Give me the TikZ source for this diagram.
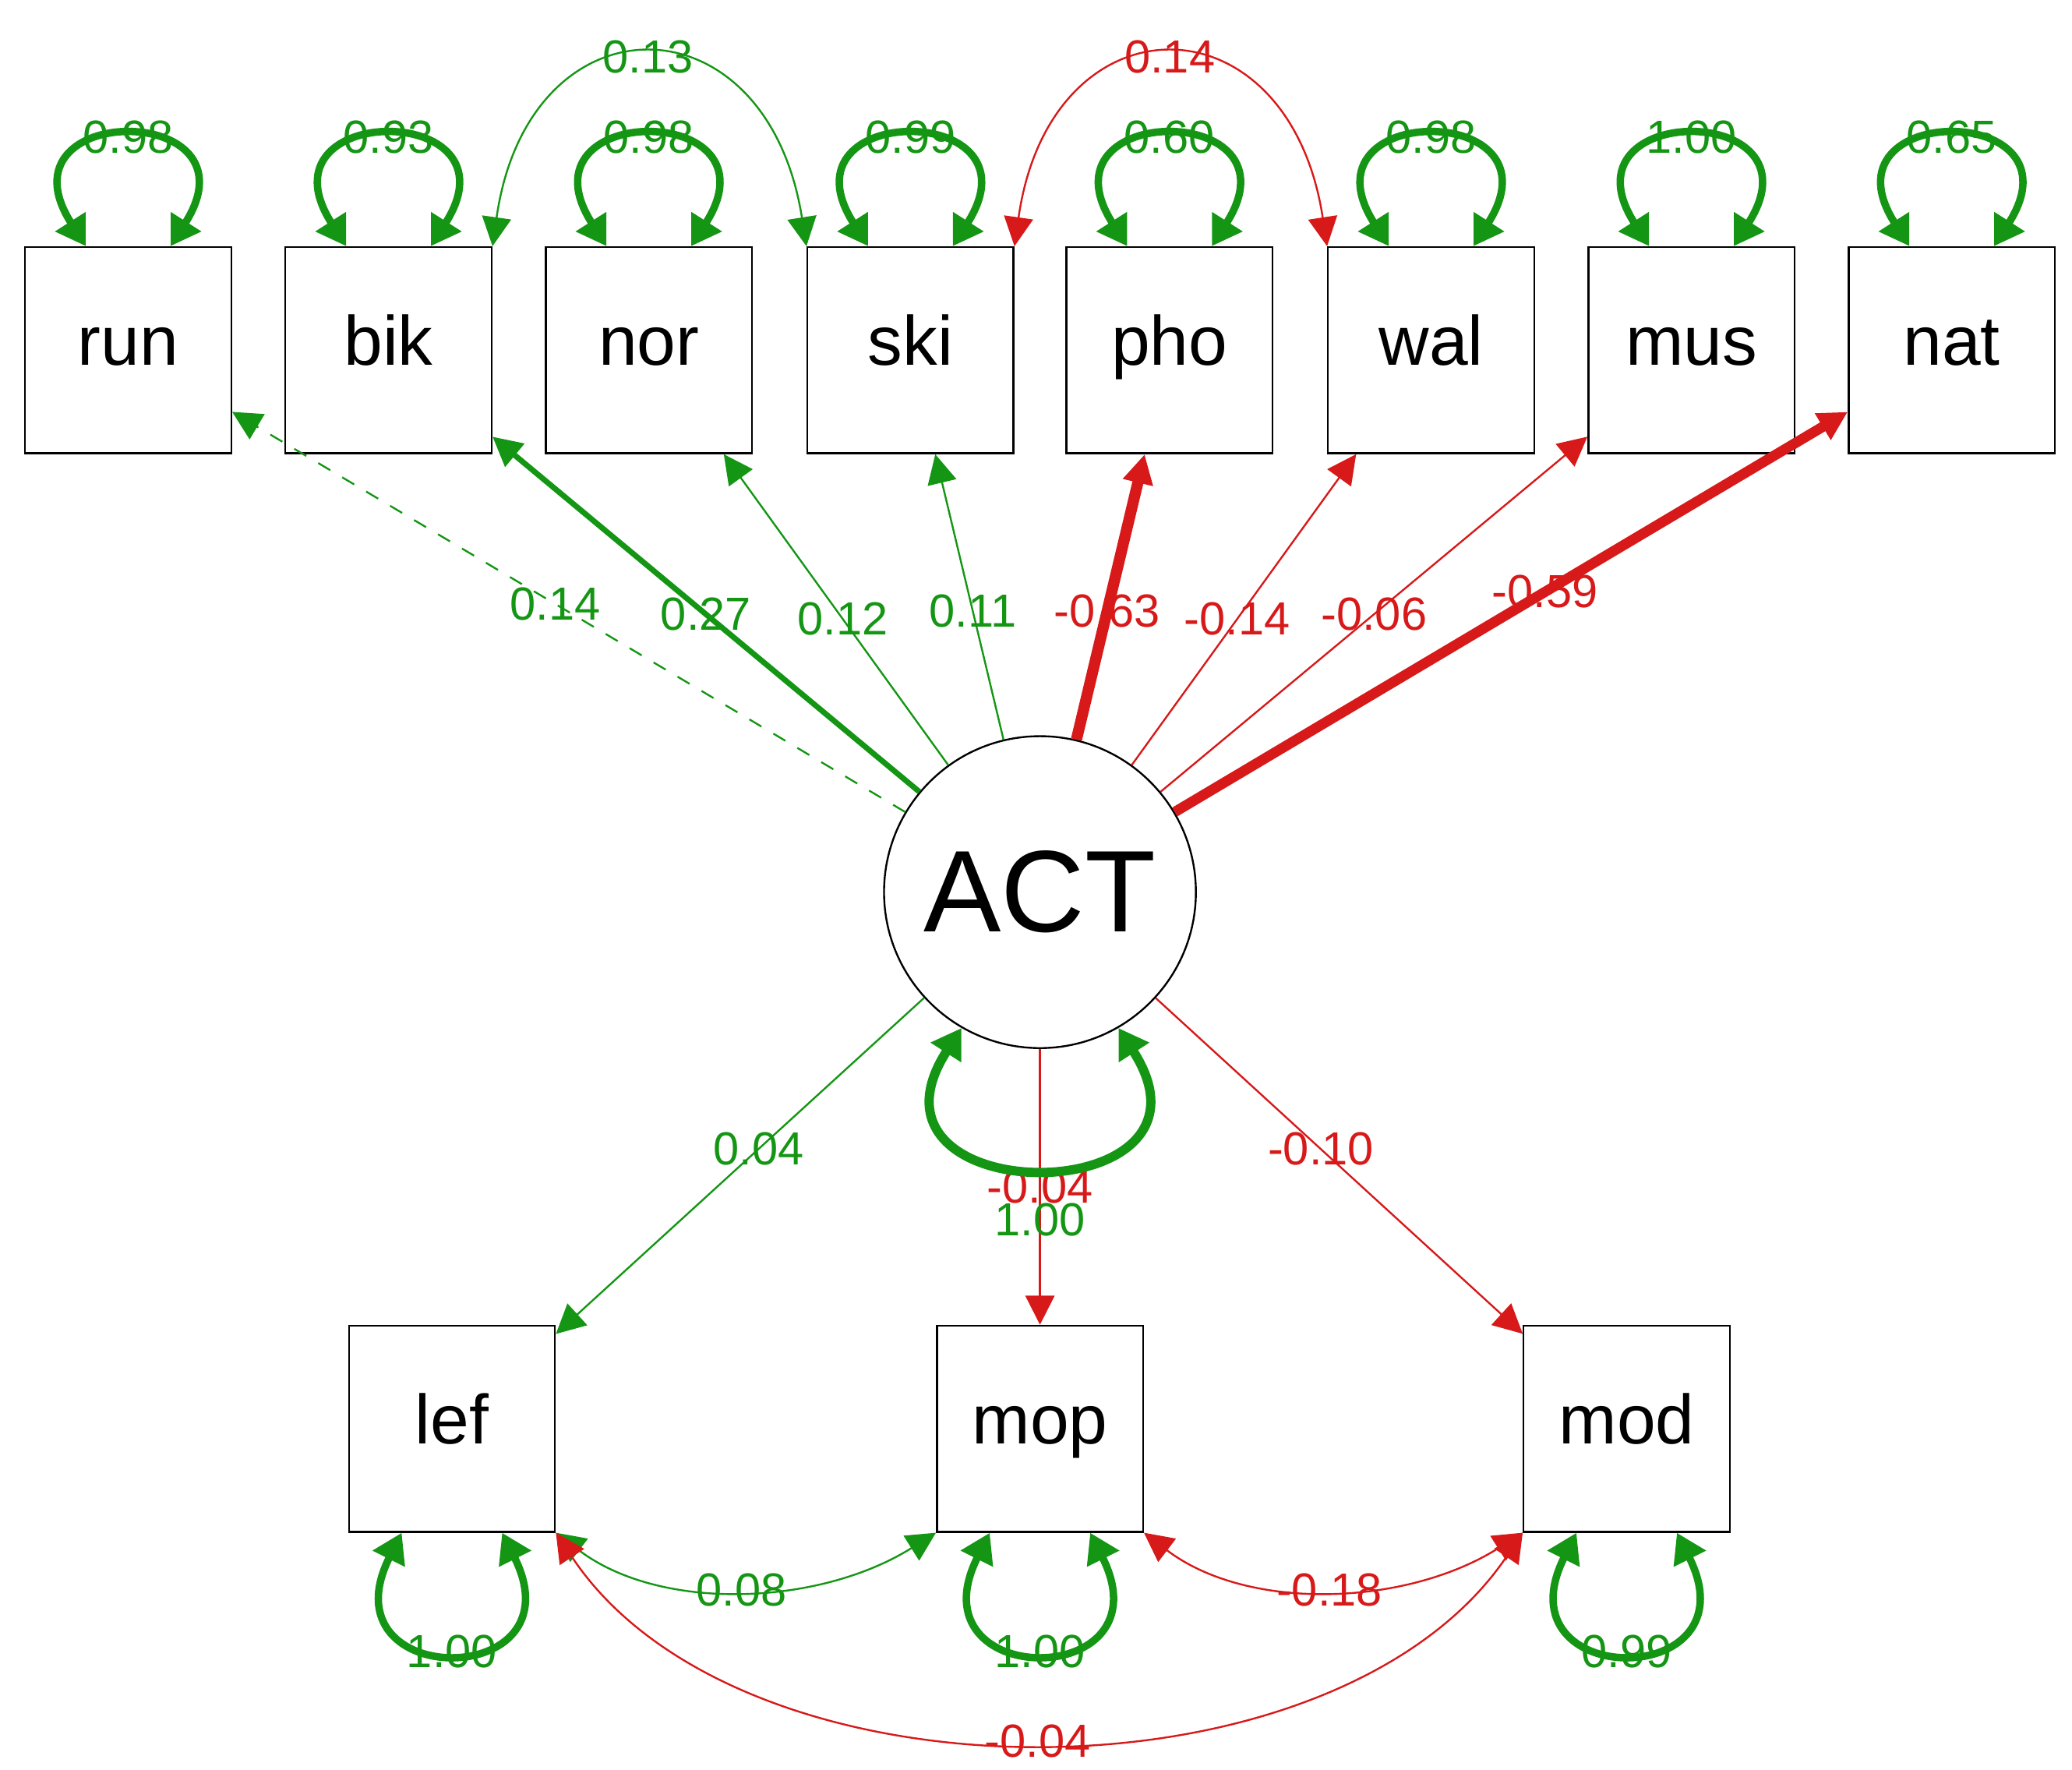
\documentclass[tikz,border=0pt]{standalone}
\usepackage{fontspec}
\setmainfont{Liberation Sans}
\usetikzlibrary{arrows.meta}
\definecolor{semgreen}{RGB}{20,150,20}
\definecolor{semred}{RGB}{215,25,25}
\begin{document}
\begin{tikzpicture}[x=0.1mm,y=-0.1mm,
  obs/.style={draw,rectangle,minimum size=15.6mm,inner sep=0pt,text height=1.6ex,text depth=0.4ex,font=\fontsize{15}{15}\selectfont},
  lat/.style={draw,circle,minimum size=23.6mm,inner sep=0pt,font=\fontsize{25}{25}\selectfont},
  lbl/.style={font=\fontsize{10}{10}\selectfont,inner sep=1pt},
  posload/.style={semgreen,-{Triangle[length=2.2mm,width=2.2mm]}},
  negload/.style={semred,-{Triangle[length=2.2mm,width=2.2mm]}},
  cov/.style={{Triangle[length=2.2mm,width=2.2mm]}-{Triangle[length=2.2mm,width=2.2mm]}},
  var/.style={semgreen,line width=1.6pt,{Triangle[length=2.2mm,width=2.6mm]}-{Triangle[length=2.2mm,width=2.6mm]}}]
\useasboundingbox (0,0) rectangle (1568,1339);
% indicators
\foreach \n/\x in {run/97,bik/294,nor/491,ski/689,pho/885,wal/1083,mus/1280,nat/1477}
  \node[obs] (\n) at (\x,265) {\n};
\node[lat] (act) at (787,675) {ACT};
\node[obs] (lef) at (342,1081) {lef};
\node[obs] (mop) at (787,1081) {mop};
\node[obs] (mod) at (1231,1081) {mod};
% loadings
\draw[posload,dashed,thin] (act) -- (run) node[pos=0.52,lbl,semgreen] {0.14};
\draw[posload,line width=1.2pt] (act) -- (bik) node[pos=0.5,lbl,semgreen] {0.27};
\draw[posload,thin] (act) -- (nor) node[pos=0.47,lbl,semgreen] {0.12};
\draw[posload,thin] (act) -- (ski) node[pos=0.45,lbl,semgreen] {0.11};
\draw[negload,line width=2.4pt] (act) -- (pho) node[pos=0.45,lbl,semred] {-0.63};
\draw[negload,thin] (act) -- (wal) node[pos=0.47,lbl,semred] {-0.14};
\draw[negload,thin] (act) -- (mus) node[pos=0.5,lbl,semred] {-0.06};
\draw[negload,line width=2.2pt] (act) -- (nat) node[pos=0.55,lbl,semred] {-0.59};
\draw[posload,thin] (act) -- (lef) node[pos=0.45,lbl,semgreen] {0.04};
\draw[negload,thin] (act) -- (mop) node[pos=0.5,lbl,semred] {-0.04};
\draw[negload,thin] (act) -- (mod) node[pos=0.45,lbl,semred] {-0.10};
% variances
\foreach \n/\v in {run/0.98,bik/0.93,nor/0.98,ski/0.99,pho/0.60,wal/0.98,mus/1.00,nat/0.65}
  \draw[var] ([xshift=-3.2mm]\n.north) .. controls +(-7mm,11mm) and +(7mm,11mm) .. ([xshift=3.2mm]\n.north)
    node[midway,lbl,semgreen] {\v};
\foreach \n/\v in {lef/1.00,mop/1.00,mod/0.99}
  \draw[var] ([xshift=-3.8mm]\n.south) .. controls +(-6mm,-12mm) and +(6mm,-12mm) .. ([xshift=3.8mm]\n.south)
    node[midway,lbl,semgreen] {\v};
\draw[var,line width=2pt] (act.-120) .. controls +(-9mm,-14mm) and +(9mm,-14mm) .. (act.-60)
  node[pos=0.5,lbl,semgreen,yshift=-4mm] {1.00};
% covariances
\draw[cov,semgreen,thin] (bik.north east) .. controls (400,-5) and (580,-5) .. (ski.north west)
  node[midway,lbl,semgreen] {0.13};
\draw[cov,semred,thin] (ski.north east) .. controls (795,-5) and (975,-5) .. (wal.north west)
  node[midway,lbl,semred] {0.14};
\draw[cov,semgreen,thin] (lef.south east) .. controls (500,1220) and (620,1215) .. (mop.south west)
  node[midway,lbl,semgreen] {0.08};
\draw[cov,semred,thin] (mop.south east) .. controls (945,1220) and (1065,1215) .. (mod.south west)
  node[midway,lbl,semred] {-0.18};
\draw[cov,semred,thin] (lef.south east) .. controls (560,1370) and (1010,1370) .. (mod.south west)
  node[midway,lbl,semred] {-0.04};
\end{tikzpicture}
\end{document}
